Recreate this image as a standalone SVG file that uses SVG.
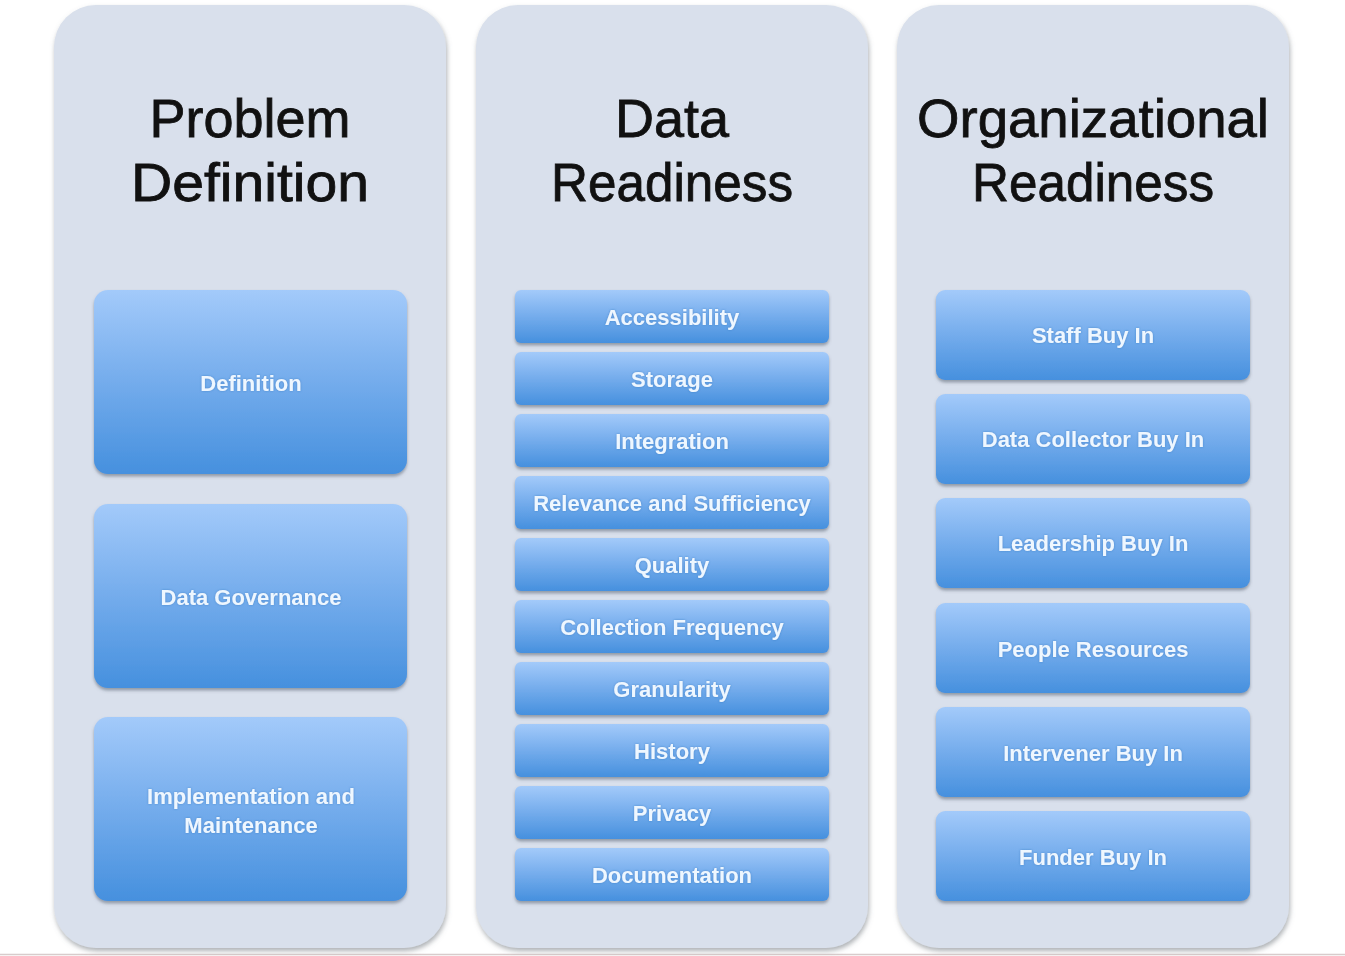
<svg xmlns="http://www.w3.org/2000/svg" width="1345" height="956" viewBox="0 0 1345 956">
<defs>
<linearGradient id="bx" x1="0" y1="0" x2="0" y2="1">
<stop offset="0" stop-color="#a3cafa"/>
<stop offset="0.5" stop-color="#74acec"/>
<stop offset="1" stop-color="#4690de"/>
</linearGradient>
<filter id="colsh" x="-10%" y="-10%" width="120%" height="120%">
<feDropShadow dx="1" dy="3" stdDeviation="2.5" flood-color="#6a6f78" flood-opacity="0.55"/>
</filter>
<filter id="bxsh" x="-10%" y="-10%" width="120%" height="130%">
<feDropShadow dx="0" dy="2.5" stdDeviation="1.8" flood-color="#4a5666" flood-opacity="0.5"/>
</filter>
<filter id="txsh" x="-5%" y="-30%" width="110%" height="160%">
<feDropShadow dx="0" dy="0" stdDeviation="1" flood-color="#2d6fb8" flood-opacity="0.6"/>
</filter>
</defs>
<style>
.col{fill:#d9e0ec;filter:url(#colsh)}
.bx{fill:url(#bx);filter:url(#bxsh)}
.ttl{font-family:"Liberation Sans",Arial,sans-serif;font-size:54px;fill:#111;stroke:#111;stroke-width:0.8;text-anchor:middle}
.lbl{font-family:"Liberation Sans",Arial,sans-serif;font-size:22px;font-weight:bold;fill:#eef7ff;text-anchor:middle;filter:url(#txsh)}
</style>
<rect width="1345" height="956" fill="#ffffff"/>
<line x1="0" y1="954.5" x2="1345" y2="954.5" stroke="#d8cccc" stroke-width="1.5"/>

<g id="col-problem">
<rect class="col" x="54" y="5" width="392" height="943" rx="42"/>
<text class="ttl" x="250" y="137">Problem</text>
<text class="ttl" x="250" y="201" textLength="238" lengthAdjust="spacingAndGlyphs">Definition</text>
</g>
<g id="col-data">
<rect class="col" x="476" y="5" width="392" height="943" rx="42"/>
<text class="ttl" x="672" y="137">Data</text>
<text class="ttl" x="672" y="201" textLength="242" lengthAdjust="spacingAndGlyphs">Readiness</text>
</g>
<g id="col-org">
<rect class="col" x="897" y="5" width="392" height="943" rx="42"/>
<text class="ttl" x="1093" y="137" textLength="352" lengthAdjust="spacingAndGlyphs">Organizational</text>
<text class="ttl" x="1093" y="201" textLength="242" lengthAdjust="spacingAndGlyphs">Readiness</text>
</g>

<g id="n-definition"><rect class="bx" x="94" y="290" width="313" height="184" rx="14"/><text class="lbl" x="251" y="391">Definition</text></g>
<g id="n-governance"><rect class="bx" x="94" y="504" width="313" height="184" rx="14"/><text class="lbl" x="251" y="605">Data Governance</text></g>
<g id="n-implementation"><rect class="bx" x="94" y="717" width="313" height="184" rx="14"/><text class="lbl" x="251" y="804">Implementation and</text><text class="lbl" x="251" y="833">Maintenance</text></g>

<g id="n-accessibility"><rect class="bx" x="515" y="290" width="314" height="53" rx="6"/><text class="lbl" x="672" y="325">Accessibility</text></g>
<g id="n-storage"><rect class="bx" x="515" y="352" width="314" height="53" rx="6"/><text class="lbl" x="672" y="387">Storage</text></g>
<g id="n-integration"><rect class="bx" x="515" y="414" width="314" height="53" rx="6"/><text class="lbl" x="672" y="449">Integration</text></g>
<g id="n-relevance"><rect class="bx" x="515" y="476" width="314" height="53" rx="6"/><text class="lbl" x="672" y="511">Relevance and Sufficiency</text></g>
<g id="n-quality"><rect class="bx" x="515" y="538" width="314" height="53" rx="6"/><text class="lbl" x="672" y="573">Quality</text></g>
<g id="n-frequency"><rect class="bx" x="515" y="600" width="314" height="53" rx="6"/><text class="lbl" x="672" y="635">Collection Frequency</text></g>
<g id="n-granularity"><rect class="bx" x="515" y="662" width="314" height="53" rx="6"/><text class="lbl" x="672" y="697">Granularity</text></g>
<g id="n-history"><rect class="bx" x="515" y="724" width="314" height="53" rx="6"/><text class="lbl" x="672" y="759">History</text></g>
<g id="n-privacy"><rect class="bx" x="515" y="786" width="314" height="53" rx="6"/><text class="lbl" x="672" y="821">Privacy</text></g>
<g id="n-documentation"><rect class="bx" x="515" y="848" width="314" height="53" rx="6"/><text class="lbl" x="672" y="883">Documentation</text></g>

<g id="n-staff"><rect class="bx" x="936" y="290" width="314" height="90" rx="9"/><text class="lbl" x="1093" y="343">Staff Buy In</text></g>
<g id="n-collector"><rect class="bx" x="936" y="394" width="314" height="90" rx="9"/><text class="lbl" x="1093" y="447">Data Collector Buy In</text></g>
<g id="n-leadership"><rect class="bx" x="936" y="498" width="314" height="90" rx="9"/><text class="lbl" x="1093" y="551">Leadership Buy In</text></g>
<g id="n-people"><rect class="bx" x="936" y="603" width="314" height="90" rx="9"/><text class="lbl" x="1093" y="657">People Resources</text></g>
<g id="n-intervener"><rect class="bx" x="936" y="707" width="314" height="90" rx="9"/><text class="lbl" x="1093" y="761">Intervener Buy In</text></g>
<g id="n-funder"><rect class="bx" x="936" y="811" width="314" height="90" rx="9"/><text class="lbl" x="1093" y="865">Funder Buy In</text></g>

<g id="connectors"/>
</svg>
